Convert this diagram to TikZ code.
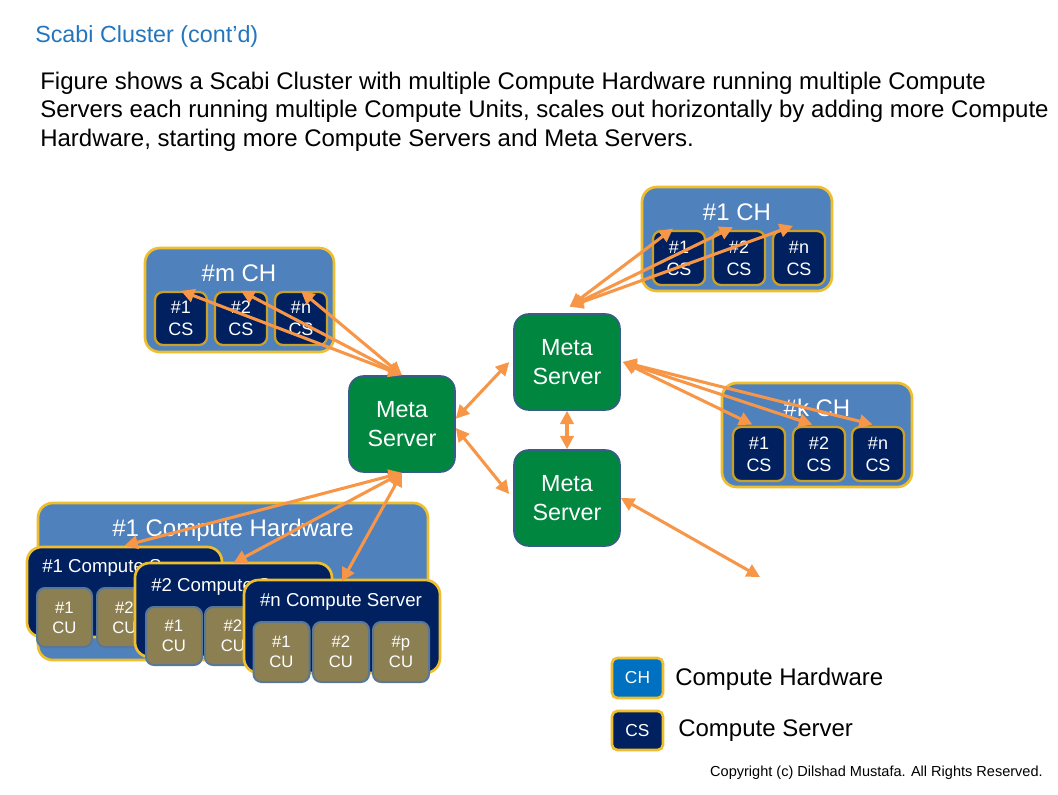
\documentclass[tikz,border=0pt]{standalone}
\usepackage{fontspec}
\setmainfont{Liberation Sans}
\usetikzlibrary{arrows.meta,calc}
\definecolor{chblue}{RGB}{79,129,189}
\definecolor{gold}{RGB}{238,190,45}
\definecolor{navy}{RGB}{0,32,96}
\definecolor{metagreen}{RGB}{0,134,62}
\definecolor{metaedge}{RGB}{56,93,138}
\definecolor{olive}{RGB}{140,127,82}
\definecolor{cuedge}{RGB}{90,120,150}
\definecolor{legblue}{RGB}{0,112,192}
\definecolor{orng}{RGB}{247,150,70}
\definecolor{titleblue}{RGB}{35,118,190}
\begin{document}
\begin{tikzpicture}[x=0.75pt,y=-0.75pt,
  sz/.style n args={2}{minimum width=#1*0.75pt,minimum height=#2*0.75pt},
  meta/.style={draw=metaedge,line width=1.2pt,fill=metagreen,rounded corners=11pt,inner sep=0pt,
     text=white,align=center,font=\fontsize{17.5}{22}\selectfont},
  chbox/.style={draw=gold,line width=2pt,fill=chblue,rounded corners=11pt,inner sep=0pt},
  csbox/.style={draw=gold!85!black,line width=1.7pt,fill=navy,rounded corners=6pt,inner sep=0pt,
     text=white,align=center,font=\fontsize{13.5}{16.5}\selectfont},
  srvbox/.style={draw=gold,line width=2pt,fill=navy,rounded corners=11pt,inner sep=0pt},
  cubox/.style={draw=cuedge,line width=1.5pt,fill=olive,rounded corners=6pt,inner sep=0pt,
     text=white,align=center,font=\fontsize{12.5}{15}\selectfont},
  wlabel/.style={text=white,inner sep=0pt},
  conn/.style={draw=orng,line width=2.3pt,{Triangle[length=10pt,width=10pt]}-{Triangle[length=10pt,width=10pt]}}
]
\useasboundingbox (0,0) rectangle (1058,794);

% titles
\node[anchor=base west,inner sep=0pt,text=titleblue,font=\fontsize{17.5}{20}\selectfont] (title) at (35,42) {Scabi Cluster (cont’d)};
\node[anchor=base west,inner sep=0pt,font=\fontsize{18}{20}\selectfont] (l1) at (40,89) {Figure shows a Scabi Cluster with multiple Compute Hardware running multiple Compute};
\node[anchor=base west,inner sep=0pt,font=\fontsize{18}{20}\selectfont] (l2) at (40,117.5) {Servers each running multiple Compute Units, scales out horizontally by adding more Compute};
\node[anchor=base west,inner sep=0pt,font=\fontsize{18}{20}\selectfont] (l3) at (40,146) {Hardware, starting more Compute Servers and Meta Servers.};

% meta servers
\node[meta,sz={106}{96}] (mL) at (402,424) {Meta\\Server};
\node[meta,sz={106}{96}] (mT) at (567,362) {Meta\\Server};
\node[meta,sz={106}{96}] (mB) at (567,498) {Meta\\Server};

% #m CH
\node[chbox,sz={189}{104}] (chm) at (239.5,300) {};
\node[wlabel,font=\fontsize{18}{20}\selectfont] (chmt) at (239,273) {\#m CH};
\node[csbox,sz={52}{53}] (cm1) at (181,318.5) {\#1\\CS};
\node[csbox,sz={52}{53}] (cm2) at (241,318.5) {\#2\\CS};
\node[csbox,sz={52}{53}] (cmn) at (301,318.5) {\#n\\CS};

% #1 CH
\node[chbox,sz={190}{104}] (ch1) at (737,239) {};
\node[wlabel,font=\fontsize{18}{20}\selectfont] (ch1t) at (737,212) {\#1 CH};
\node[csbox,sz={52}{54}] (c11) at (679,258) {\#1\\CS};
\node[csbox,sz={52}{54}] (c12) at (739,258) {\#2\\CS};
\node[csbox,sz={52}{54}] (c1n) at (799,258) {\#n\\CS};

% #k CH
\node[chbox,sz={190}{104}] (chk) at (817,435) {};
\node[wlabel,font=\fontsize{18}{20}\selectfont] (chkt) at (817,408) {\#k CH};
\node[csbox,sz={52}{54}] (ck1) at (759,454) {\#1\\CS};
\node[csbox,sz={52}{54}] (ck2) at (819,454) {\#2\\CS};
\node[csbox,sz={52}{54}] (ckn) at (878,454) {\#n\\CS};

% #1 Compute Hardware
\node[chbox,sz={390}{157}] (hw) at (233,581.5) {};
\node[wlabel,font=\fontsize{18}{20}\selectfont] (hwt) at (233,530) {\#1 Compute Hardware};

\node[srvbox,sz={195}{90}] (s1) at (124.5,592) {};
\node[wlabel,anchor=west,font=\fontsize{14}{16}\selectfont] (s1t) at (42,568) {\#1 Compute Server};
\node[cubox,sz={55}{59}] (s1u1) at (64.5,617.5) {\#1\\CU};
\node[cubox,sz={55}{59}] (s1u2) at (124.5,617.5) {\#2\\CU};

\node[srvbox,sz={197}{94}] (s2) at (233.5,610) {};
\node[wlabel,anchor=west,font=\fontsize{14}{16}\selectfont] (s2t) at (151,587) {\#2 Compute Server};
\node[cubox,sz={56}{58}] (s2u1) at (174,636) {\#1\\CU};
\node[cubox,sz={56}{58}] (s2u2) at (233,636) {\#2\\CU};

\node[srvbox,sz={196}{93}] (sn) at (342,626.5) {};
\node[wlabel,font=\fontsize{14}{16}\selectfont] (snt) at (341,602) {\#n Compute Server};
\node[cubox,sz={56}{60}] (snu1) at (281.5,652) {\#1\\CU};
\node[cubox,sz={56}{60}] (snu2) at (341,652) {\#2\\CU};
\node[cubox,sz={56}{60}] (snup) at (401,652) {\#p\\CU};

% legend
\node[draw=gold,line width=2pt,fill=legblue,rounded corners=4pt,inner sep=0pt,sz={51}{40},
  text=white,font=\fontsize{13}{14}\selectfont] (legch) at (637.5,678) {CH};
\node[anchor=west,inner sep=0pt,font=\fontsize{18}{20}\selectfont] (legcht) at (675,679) {Compute Hardware};
\node[draw=gold,line width=2pt,fill=navy,rounded corners=4pt,inner sep=0pt,sz={51}{39},
  text=white,font=\fontsize{13}{14}\selectfont] (legcs) at (637.5,730.5) {CS};
\node[anchor=west,inner sep=0pt,font=\fontsize{18}{20}\selectfont] (legcst) at (678,731) {Compute Server};

\node[anchor=east,inner sep=0pt,font=\fontsize{10.9}{12}\selectfont] (copy) at (1043,773) {Copyright (c) Dilshad Mustafa. All Rights Reserved.};

% connectors
\coordinate (free) at (760,577);
\draw[conn] (cm1.north) -- (mL.north);
\draw[conn] (cm2.north) -- (mL.north);
\draw[conn] (cmn.north) -- (mL.north);
\draw[conn] ([xshift=-4.5pt,yshift=1pt]c11.north) -- ([xshift=2pt,yshift=5pt]mT.north);
\draw[conn] ([xshift=-4.5pt,yshift=2pt]c12.north) -- ([xshift=2pt,yshift=5pt]mT.north);
\draw[conn] ([xshift=-4.5pt,yshift=3pt]c1n.north) -- ([xshift=2pt,yshift=5pt]mT.north);
\draw[conn] ([xshift=-5pt,yshift=1pt]ck1.north) -- ([xshift=1.5pt]mT.east);
\draw[conn] ([xshift=-5pt,yshift=1pt]ck2.north) -- ([xshift=1.5pt]mT.east);
\draw[conn] ([xshift=-4pt,yshift=1pt]ckn.north) -- ([xshift=1.5pt]mT.east);
\draw[conn] (mB.east) -- (free);
\draw[conn] (mL.south) -- (s1.north);
\draw[conn] (mL.south) -- ([yshift=-1pt]s2.north);
\draw[conn] (mL.south) -- ([yshift=-2pt]sn.north);
\draw[conn] ([yshift=4pt]mL.east) -- ([xshift=-3pt]mT.west);
\draw[conn] ([yshift=-3pt]mL.east) -- ([xshift=-3pt,yshift=3pt]mB.west);
\draw[conn] (mT.south) -- (mB.north);
\end{tikzpicture}
\end{document}
